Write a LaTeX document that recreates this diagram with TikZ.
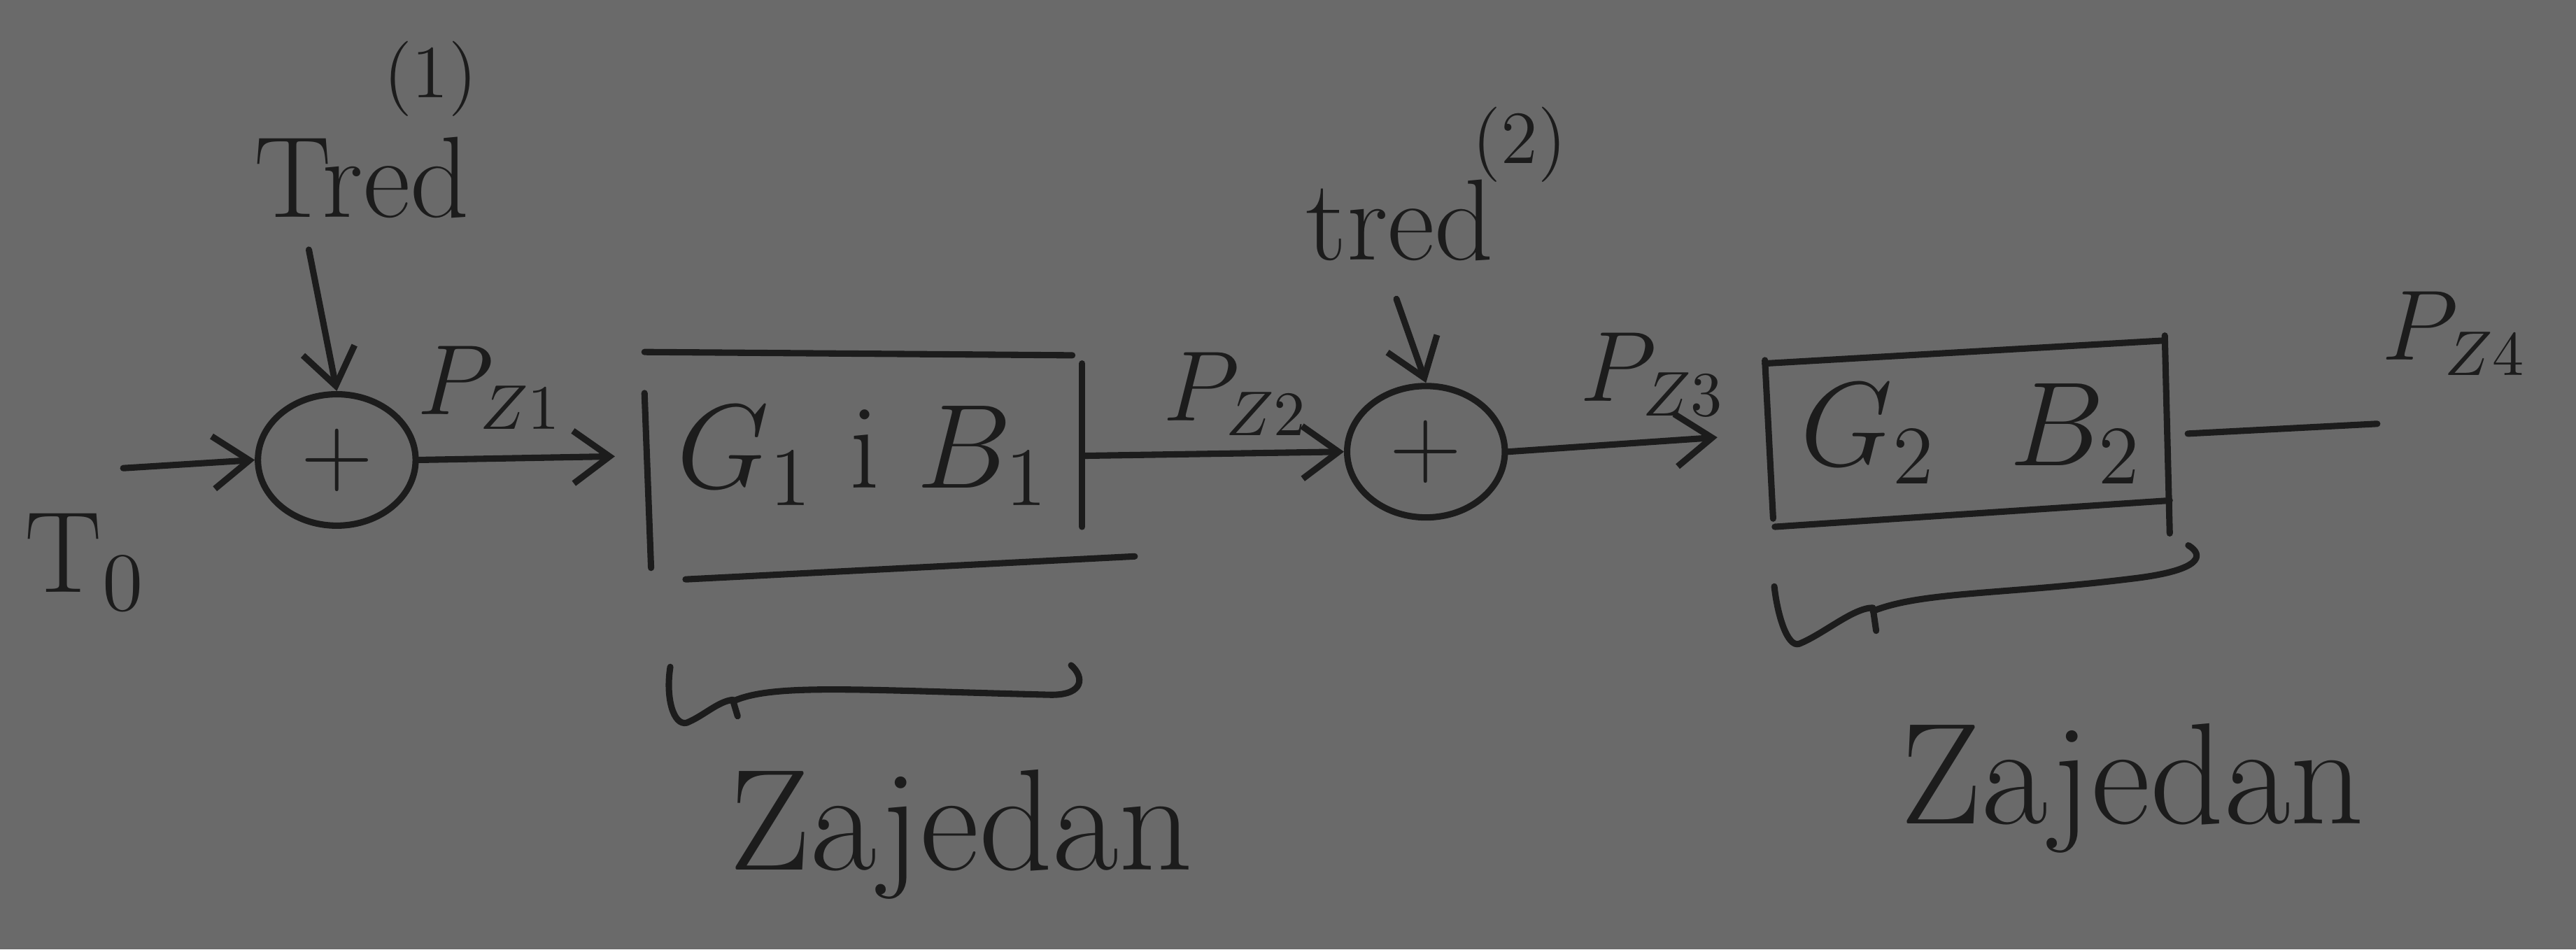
\documentclass[tikz,border=0pt]{standalone}
\usetikzlibrary{shapes.geometric,arrows.meta}
\definecolor{paper}{RGB}{106,106,106}
\definecolor{ink}{RGB}{28,28,28}
\begin{document}
\begin{tikzpicture}[x=0.1mm,y=-0.1mm,
  inkline/.style={draw=ink, line width=1.1pt, line cap=round, line join=round},
  harrow/.style={inkline, -{Straight Barb[length=2.2mm,width=3.2mm]}},
  sumnode/.style={ellipse, draw=ink, line width=1.1pt, minimum width=9.6mm, minimum height=8mm, inner sep=0pt, text=ink, font=\fontsize{16}{18}\selectfont},
  boxnode/.style={rectangle, inner sep=0pt, text=ink, font=\fontsize{21}{25}\selectfont},
  lab/.style={text=ink, inner sep=1pt, font=\fontsize{20}{24}\selectfont},
  plab/.style={text=ink, inner sep=1pt, font=\fontsize{16}{19}\selectfont},
  sup/.style={text=ink, inner sep=1pt, font=\fontsize{13}{15}\selectfont},
  word/.style={text=ink, inner sep=1pt, font=\fontsize{25}{28}\selectfont}]
\fill[paper] (0,0) rectangle (1568,578);
\useasboundingbox (0,0) rectangle (1568,578);

% summing junctions
\node[sumnode] (s1) at (205,280) {$+$};
\node[sumnode] (s2) at (868,275) {$+$};

% blocks
\node[boxnode, minimum width=26.5mm, minimum height=12.5mm] (b1) at (525.5,277.5) {$G_1$ i $B_1$};
\node[boxnode, minimum width=24.2mm, minimum height=10.8mm] (b2) at (1200,264) {$G_2$\ \ $B_2$};

% hand-drawn edges of block 1
\draw[inkline] (b1.north west) -- ([xshift=-0.6mm,yshift=-0.2mm]b1.north east);
\draw[inkline] ([yshift=-2.5mm]b1.north west) -- ([xshift=0.4mm,yshift=-0.5mm]b1.south west);
\draw[inkline] ([yshift=-0.7mm]b1.north east) -- ([yshift=2mm]b1.south east);
\draw[inkline] ([xshift=2.5mm,yshift=-1.2mm]b1.south west) -- ([xshift=3.2mm,yshift=0.2mm]b1.south east);
% hand-drawn edges of block 2
\draw[inkline] ([xshift=-0.4mm,yshift=-1.2mm]b2.north west) -- ([xshift=-0.4mm,yshift=0.2mm]b2.north east);
\draw[inkline] ([xshift=-0.4mm,yshift=-1.0mm]b2.north west) -- ([xshift=0.1mm,yshift=0.3mm]b2.south west);
\draw[inkline] ([xshift=-0.4mm,yshift=0.5mm]b2.north east) -- ([xshift=-0.1mm,yshift=-0.6mm]b2.south east);
\draw[inkline] ([xshift=0.2mm,yshift=-0.2mm]b2.south west) -- ([xshift=-0.1mm,yshift=1.4mm]b2.south east);

% labels
\node[lab] (tr1) at (220,108) {Tred};
\node[sup] (tr1s) at (262,48) {(1)};
\node[lab] (tr2) at (852,134) {tred};
\node[sup] (tr2s) at (925,88) {(2)};
\node[lab] (t0) at (52,342) {T$_0$};
\node[plab] (pz1) at (298,236) {$P_{Z1}$};
\node[plab] (pz2) at (752,240) {$P_{Z2}$};
\node[plab] (pz3) at (1006,228) {$P_{Z3}$};
\node[plab] (pz4) at (1494,203) {$P_{Z4}$};
\node[word] (z1) at (585,508) {Zajedan};
\node[word] (z2) at (1298,480) {Zajedan};

% connectors
\coordinate (in) at (75,285);
\coordinate (t1top) at (188,152);
\coordinate (t2top) at (850,182);
\coordinate (out) at (1447,258);
\draw[harrow] (in) -- (s1.west);
\draw[harrow] (t1top) -- (s1.north);
\draw[harrow, shorten >=1.8mm] (s1.east) -- (b1.west);
\draw[harrow] (b1.east) -- (s2.west);
\draw[harrow] (t2top) -- (s2.north);
\draw[harrow, shorten >=3.3mm] (s2.east) -- (b2.west);
\draw[inkline] ([xshift=1.0mm]b2.east) -- (out);

% braces
\draw[inkline] (408,406) .. controls (405,425) and (410,442) .. (418,440)
  .. controls (428,436) and (437,427) .. (446,426) -- (449,436);
\draw[inkline] (446,427) .. controls (470,416) and (520,420) .. (640,423)
  .. controls (660,423) and (660,412) .. (652,405);
\draw[inkline] (1080,357) .. controls (1082,375) and (1088,394) .. (1095,392)
  .. controls (1110,386) and (1128,370) .. (1140,370) -- (1142,384);
\draw[inkline] (1140,372) .. controls (1170,360) and (1220,362) .. (1300,352)
  .. controls (1340,347) and (1342,338) .. (1332,332);
\end{tikzpicture}
\end{document}
